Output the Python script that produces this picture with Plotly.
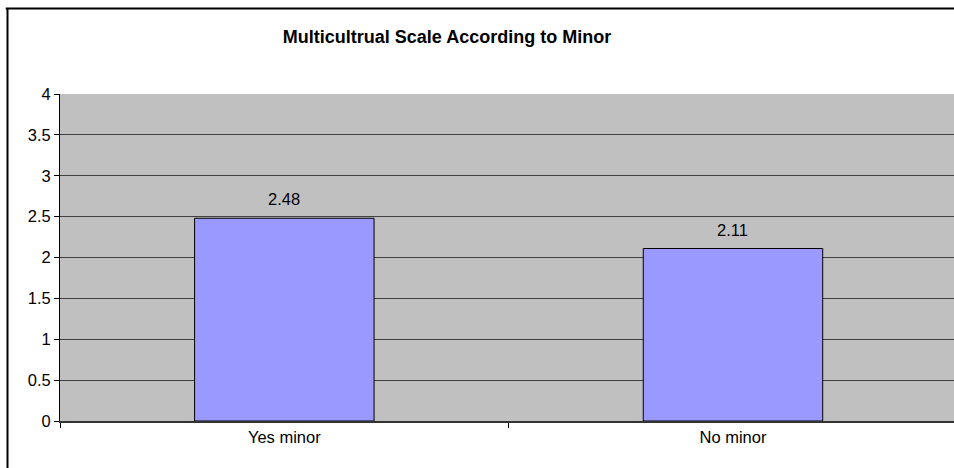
import plotly.graph_objects as go

categories = ["Yes minor", "No minor"]
values = [2.48, 2.11]
value_labels = ["2.48", "2.11"]
y_ticks = [0, 0.5, 1, 1.5, 2, 2.5, 3, 3.5, 4]
y_tick_text = ["0", "0.5", "1", "1.5", "2", "2.5", "3", "3.5", "4"]
title_text = "Multicultrual Scale According to Minor"

W, H = 954, 468
L, R, T, B = 60, 0, 94, 47
plot_w = W - L - R
plot_h = H - T - B
cat_px = 448.65
FONT = "Arial, Liberation Sans, sans-serif"

fig = go.Figure()
fig.add_trace(go.Bar(
    x=categories, y=values,
    marker=dict(color="#9999FF", line=dict(color="black", width=1)),
    width=0.4,
))

for c, v, t in zip(categories, values, value_labels):
    fig.add_annotation(x=c, y=v, text=t, showarrow=False, yanchor="middle",
                       yshift=19, font=dict(family=FONT, size=16.5, color="black"))

fig.update_layout(
    width=W, height=H,
    margin=dict(l=L, r=R, t=T, b=B),
    paper_bgcolor="white", plot_bgcolor="#C0C0C0",
    showlegend=False,
    font=dict(family=FONT, size=16.5, color="black"),
    title=dict(text="<b>" + title_text + "</b>", x=447 / W, xanchor="center",
               y=1 - 37 / H, yanchor="middle",
               font=dict(family=FONT, size=18, color="black")),
    xaxis=dict(type="category", range=[-0.5, -0.5 + plot_w / cat_px],
               tickson="boundaries", ticks="outside", ticklen=5, tickcolor="black",
               showline=True, linecolor="#333333", linewidth=2,
               showgrid=False, tickfont=dict(size=16.5)),
    yaxis=dict(range=[0, 4], tickvals=y_ticks, ticktext=y_tick_text,
               ticks="outside", ticklen=5, tickcolor="black",
               showline=True, linecolor="black", linewidth=1,
               showgrid=True, gridcolor="#404040", gridwidth=1,
               zeroline=False, tickfont=dict(size=16.5)),
)

# outer chart border (left and top edges; right/bottom lie outside the picture)
bx = (7.5 - L) / plot_w
by = (plot_h + T - 8.5) / plot_h
fig.add_shape(type="line", xref="paper", yref="paper",
              x0=bx, x1=bx, y0=by, y1=-1,
              line=dict(color="black", width=2), layer="above")
fig.add_shape(type="line", xref="paper", yref="paper",
              x0=bx - 0.002, x1=1.5, y0=by, y1=by,
              line=dict(color="black", width=2), layer="above")

fig.write_html("out.html", config={"displayModeBar": False},
               post_script="document.body.style.margin='0';document.body.style.overflow='hidden';")
